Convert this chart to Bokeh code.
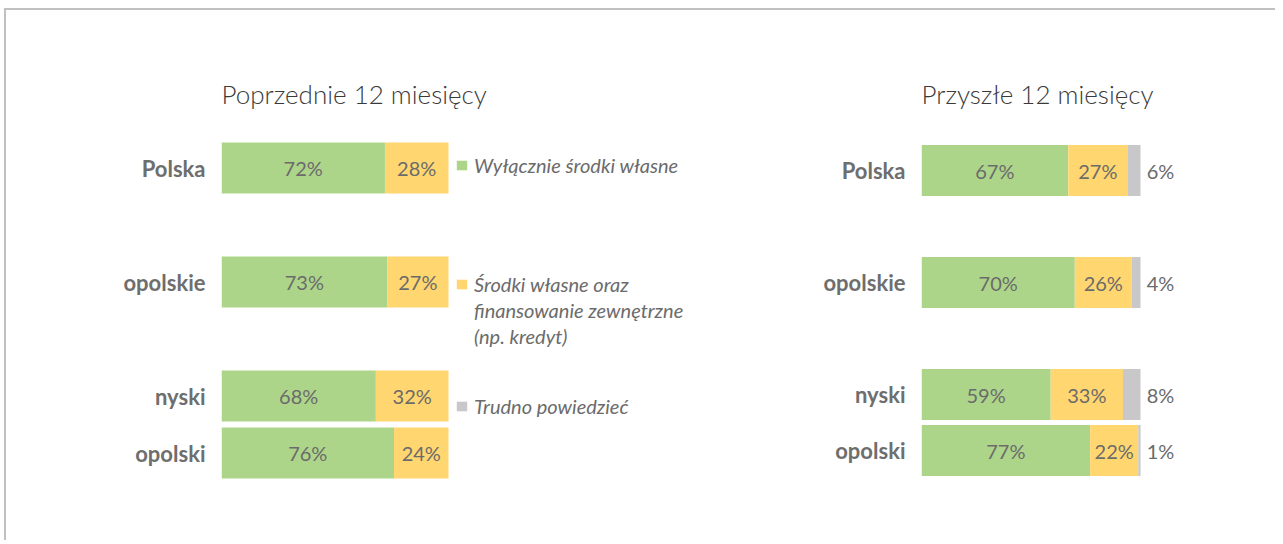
from bokeh.plotting import figure
from bokeh.models import ColumnDataSource, Range1d, FactorRange, Legend, LegendItem
from bokeh.layouts import row
from bokeh.embed import file_html
from bokeh.resources import INLINE
from bokeh.core.properties import value

# ---------------- data ----------------
categories = ["Polska", "opolskie", "nyski", "opolski"]
# spacer factors reproduce the visual gaps between groups
factors = ["opolski", "nyski", " ", "opolskie", "  ", "Polska"]

series_names = ["Wyłącznie środki własne",
                "Środki własne oraz\nfinansowanie zewnętrzne\n(np. kredyt)",
                "Trudno powiedzieć"]

prev_own = [72, 73, 68, 76]
prev_ext = [28, 27, 32, 24]
prev_dk = [0, 0, 0, 0]

next_own = [67, 70, 59, 77]
next_ext = [27, 26, 33, 22]
next_dk = [6, 4, 8, 1]

titles = ["Poprzednie 12 miesięcy", "Przyszłe 12 miesięcy"]

GREEN = "#ADD58A"
YELLOW = "#FFD670"
GRAY = "#C8C8CA"
TXT = "#6b6b6b"
FONT = "Lato"

OX, OY = 6, 10     # offset of the figures caused by the frame border
H = 530
FRAME_H = 342


def make_source(own, ext, dk):
    return ColumnDataSource(dict(
        cat=categories, own=own, ext=ext, dk=dk,
        own_mid=[o / 2 for o in own],
        ext_mid=[o + e / 2 for o, e in zip(own, ext)],
        end=[o + e + d for o, e, d in zip(own, ext, dk)],
        own_lbl=[f"{v}%" for v in own],
        ext_lbl=[f"{v}%" for v in ext],
        dk_lbl=[f"{v}%" if v > 0 else "" for v in dk],
    ))


def make_fig(title, src, width, left_border, unit_px, pct_px, show_dk):
    top = 139 - OY
    bottom = H - top - FRAME_H
    frame_w = width - left_border
    pad = (FRAME_H / unit_px - len(factors)) / 2
    p = figure(width=width, height=H, output_backend="svg", toolbar_location=None,
               y_range=FactorRange(*factors, range_padding=pad,
                                   range_padding_units="absolute"),
               x_range=Range1d(0, 100 * frame_w / pct_px),
               x_axis_location=None,
               min_border_left=left_border, min_border_right=0,
               min_border_top=top, min_border_bottom=bottom,
               title=title)
    p.title.text_font = "Lato Light, Lato"
    p.title.text_font_size = "26px"
    p.title.text_font_style = "normal"
    p.title.text_color = "#3a3a3a"
    p.title.standoff = 59
    p.outline_line_color = None
    p.grid.visible = False
    p.background_fill_color = "white"
    p.border_fill_color = "white"
    ax = p.yaxis[0]
    ax.axis_line_color = None
    ax.major_tick_line_color = None
    ax.minor_tick_line_color = None
    ax.major_tick_out = 0
    ax.major_label_standoff = 16
    ax.major_label_text_font = FONT
    ax.major_label_text_font_style = "bold"
    ax.major_label_text_font_size = "22px"
    ax.major_label_text_color = "#6e6e6e"

    h = 51 / unit_px
    rs = p.hbar_stack(["own", "ext", "dk"], y="cat", height=h,
                      color=[GREEN, YELLOW, GRAY], line_color=None, source=src)
    p.text(x="own_mid", y="cat", text="own_lbl", source=src, text_font=value(FONT),
           text_font_size="20px", text_color=TXT, text_align="center",
           text_baseline="middle")
    p.text(x="ext_mid", y="cat", text="ext_lbl", source=src, text_font=value(FONT),
           text_font_size="20px", text_color=TXT, text_align="center",
           text_baseline="middle")
    if show_dk:
        p.text(x="end", y="cat", text="dk_lbl", source=src, text_font=value(FONT),
               text_font_size="20px", text_color=TXT, text_align="center",
               text_baseline="middle", x_offset=20)
    return p, rs


src_prev = make_source(prev_own, prev_ext, prev_dk)
src_next = make_source(next_own, next_ext, next_dk)

p1, rs1 = make_fig(titles[0], src_prev, 800 - OX, 221 - OX, 57, 227, False)
p2, rs2 = make_fig(titles[1], src_next, 475, 121, 56, 219, True)

# legend (left panel)
dummy = p1.hbar(y=[], right=[], height=0.5, fill_alpha=0, line_alpha=0)


def style_legend(lg, lh):
    lg.glyph_width = 13
    lg.glyph_height = 12
    lg.label_standoff = 6
    lg.label_height = lh
    lg.spacing = 0
    lg.padding = 0
    lg.margin = 0
    lg.border_line_color = None
    lg.background_fill_alpha = 0
    lg.label_text_font = FONT
    lg.label_text_font_style = "italic"
    lg.label_text_font_size = "20px"
    lg.label_text_color = TXT
    lg.click_policy = "none"


lines2 = series_names[1].split("\n")
lg1 = Legend(items=[LegendItem(label=series_names[0], renderers=[rs1[0]])], location=(234, 304))
lg2 = Legend(items=[LegendItem(label=lines2[0], renderers=[rs1[1]]),
                    LegendItem(label=lines2[1], renderers=[dummy]),
                    LegendItem(label=lines2[2], renderers=[dummy])], location=(234, 132))
lg3 = Legend(items=[LegendItem(label=series_names[2], renderers=[rs1[2]])], location=(234, 63))
style_legend(lg1, 20)
style_legend(lg2, 26)
style_legend(lg3, 20)
for lg in (lg1, lg2, lg3):
    p1.add_layout(lg)

layout = row(p1, p2, styles={"border-top": "2px solid #c0c0c0",
                             "border-left": "2px solid #c0c0c0",
                             "margin-top": "8px", "margin-left": "4px"})

open("out.html", "w").write(file_html(layout, INLINE))
